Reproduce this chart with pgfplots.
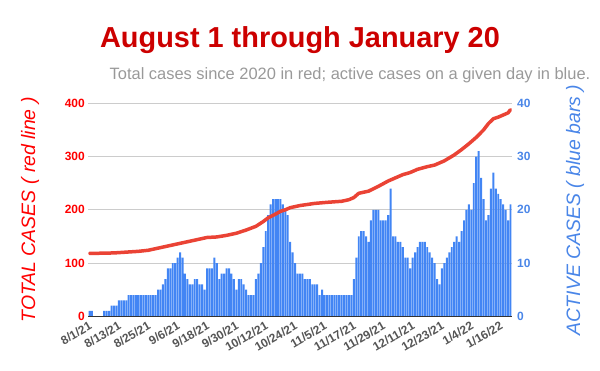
\documentclass[border=0pt]{standalone}
\usepackage{pgfplots}
\usepackage{pgfplotstable}
\pgfplotsset{compat=1.18}
\usepackage{fontspec}
\setmainfont{Liberation Sans}
\definecolor{barblue}{HTML}{4285F4}
\definecolor{linered}{HTML}{EA4335}
\definecolor{titlered}{HTML}{CC0000}
\definecolor{subgray}{HTML}{999999}
\definecolor{lblblue}{HTML}{4A86E8}
\definecolor{tickgray}{HTML}{555555}
\definecolor{gridgray}{HTML}{CCCCCC}
\definecolor{pured}{HTML}{FF0000}

\pgfplotstableread{
day active
0 1
1 1
2 0
3 0
4 0
5 0
6 1
7 1
8 1
9 2
10 2
11 2
12 3
13 3
14 3
15 3
16 4
17 4
18 4
19 4
20 4
21 4
22 4
23 4
24 4
25 4
26 4
27 4
28 5
29 5
30 6
31 7
32 9
33 9
34 10
35 10
36 11
37 12
38 11
39 8
40 7
41 6
42 6
43 7
44 7
45 6
46 6
47 5
48 9
49 9
50 9
51 11
52 10
53 7
54 8
55 8
56 9
57 9
58 8
59 7
60 5
61 7
62 7
63 6
64 5
65 4
66 4
67 4
68 7
69 8
70 10
71 13
72 16
73 19
74 21
75 22
76 22
77 22
78 22
79 21
80 20
81 19
82 14
83 12
84 10
85 8
86 8
87 8
88 7
89 7
90 7
91 6
92 6
93 6
94 4
95 5
96 4
97 4
98 4
99 4
100 4
101 4
102 4
103 4
104 4
105 4
106 4
107 4
108 7
109 11
110 15
111 16
112 16
113 15
114 14
115 18
116 20
117 20
118 20
119 18
120 18
121 18
122 19
123 24
124 15
125 15
126 14
127 14
128 13
129 11
130 11
131 9
132 11
133 12
134 13
135 14
136 14
137 14
138 13
139 12
140 11
141 10
142 7
143 6
144 9
145 10
146 11
147 12
148 13
149 14
150 15
151 14
152 16
153 18
154 20
155 21
156 20
157 25
158 30
159 31
160 26
161 22
162 18
163 19
164 24
165 27
166 24
167 23
168 22
169 21
170 20
171 18
172 21
}\activetable

\pgfplotstableread{
day total
0 118
10 119
20 122
24 124
30 130
37 137
43 143
48 148
52 149
56 152
60 156
64 162
68 169
71 178
73 185
76 192
78 197
80 200
82 204
86 208
92 212
97 214
103 216
106 219
108 223
110 231
114 235
118 244
122 254
125 260
128 266
131 270
134 276
138 281
141 284
145 292
149 303
152 313
155 324
158 336
161 350
163 362
165 371
167 374
169 378
171 382
172 388
}\totaltable

\begin{document}
\begin{tikzpicture}
\useasboundingbox (-88.3bp,-54.7bp) rectangle (511.7bp,316.3bp);
\begin{axis}[
  at={(0,0)}, anchor=south west,
  scale only axis, width=423.4bp, height=213bp,
  xmin=-0.5, xmax=172.5, ymin=0, ymax=40,
  axis y line*=right, axis x line=none,
  y axis line style={draw=none},
  ytick={0,10,20,30,40},
  ymajorgrids, grid style={gridgray, line width=0.8bp},
  tick style={draw=none},
  /pgf/number format/assume math mode=true,
  yticklabel style={font=\fontsize{12}{12}\selectfont\bfseries, text=lblblue, xshift=2bp},
  ylabel={ACTIVE CASES ( blue bars )},
  ylabel style={at={(axis description cs:1.1495,0.5)}, anchor=center, rotate=0,
    font=\fontsize{19.5}{19.5}\selectfont\itshape, text=lblblue},
]
\addplot[ybar, bar width=0.8, fill=barblue, draw=none] table[x=day,y=active]{\activetable};
\end{axis}
\begin{axis}[
  at={(0,0)}, anchor=south west,
  scale only axis, width=423.4bp, height=213bp,
  xmin=-0.5, xmax=172.5, ymin=0, ymax=400,
  axis y line*=left, axis x line*=bottom,
  x axis line style={draw=black!80, line width=1bp, -},
  y axis line style={draw=none},
  tick style={draw=none},
  xtick={0,12,...,168},
  xticklabels={8/1/21,8/13/21,8/25/21,9/6/21,9/18/21,9/30/21,10/12/21,10/24/21,11/5/21,11/17/21,11/29/21,12/11/21,12/23/21,1/4/22,1/16/22},
  xticklabel style={rotate=30, anchor=north east, font=\fontsize{12}{12}\selectfont\bfseries, text=tickgray},
  ytick={0,100,200,300,400},
  /pgf/number format/assume math mode=true,
  yticklabel style={font=\fontsize{12}{12}\selectfont\bfseries, text=pured},
  ylabel={TOTAL CASES ( red line )},
  ylabel style={at={(axis description cs:-0.1377,0.5)}, anchor=center,
    font=\fontsize{19.5}{19.5}\selectfont\itshape, text=pured},
]
\addplot[linered, line width=3.5bp, line join=round, line cap=round, no marks] table[x=day,y=total]{\totaltable};
\end{axis}
\node[font=\fontsize{29}{29}\selectfont\bfseries, text=titlered] at (211.7bp,276.3bp) {August 1 through January 20};
\node[font=\fontsize{16.5}{16.5}\selectfont, text=subgray] at (261.7bp,241.3bp) {Total cases since 2020 in red; active cases on a given day in blue.};
\end{tikzpicture}
\end{document}
